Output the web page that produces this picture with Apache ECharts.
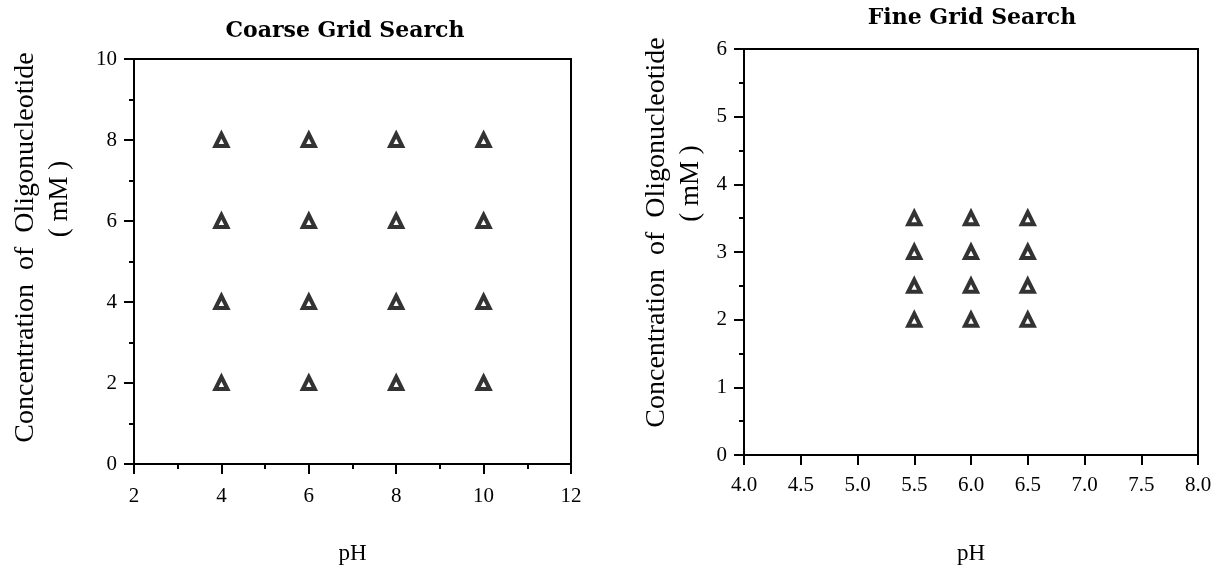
<!DOCTYPE html>
<html>
<head>
<meta charset="utf-8">
<script src="https://cdn.jsdelivr.net/npm/echarts@6/dist/echarts.min.js"></script>
<style>
  html, body { margin: 0; padding: 0; background: #fff; }
  #chart { width: 1217px; height: 570px; }
</style>
</head>
<body>
<div id="chart"></div>
<script>
// ---- Data ----
const coarsePH = [4, 6, 8, 10];
const coarseConc = [2, 4, 6, 8];
const finePH = [5.5, 6.0, 6.5];
const fineConc = [2.0, 2.5, 3.0, 3.5];

const titles = ['Coarse Grid Search', 'Fine Grid Search'];
const xName = 'pH';
const yName = 'Concentration  of  Oligonucleotide';
const yUnit = '( mM )';

function gridPoints(xs, ys) {
  const pts = [];
  xs.forEach(function (x) { ys.forEach(function (y) { pts.push([x, y]); }); });
  return pts;
}

const serif = 'Liberation Serif';
const titleFont = 'DejaVu Serif';

function yAxisCfg(gridIndex, min, max, interval, gap, padA, padB) {
  return {
    type: 'value', gridIndex: gridIndex, min: min, max: max, interval: interval,
    name: '{a|' + yName + '}\n{b|' + yUnit + '}',
    nameLocation: 'middle', nameRotate: 90, nameGap: gap, nameMoveOverlap: false,
    nameTextStyle: {
      color: '#000', fontFamily: serif, fontSize: 28,
      rich: {
        a: { fontFamily: serif, fontSize: 28, color: '#000', lineHeight: 34, padding: [0, 0, 0, padA] },
        b: { fontFamily: serif, fontSize: 27, color: '#000', lineHeight: 34, padding: [0, 0, 0, padB] }
      }
    },
    axisLine: { show: true, lineStyle: { color: '#000', width: 2 } },
    axisTick: { show: true, inside: false, length: 10, lineStyle: { color: '#000', width: 2 } },
    minorTick: { show: true, splitNumber: 2, length: 5, lineStyle: { color: '#000', width: 2 } },
    splitLine: { show: false },
    axisLabel: { color: '#000', fontFamily: serif, fontSize: 21, margin: 17 }
  };
}

function xAxisCfg(gridIndex, min, max, interval, gap, margin, minor, fmt) {
  return {
    type: 'value', gridIndex: gridIndex, min: min, max: max, interval: interval,
    name: xName, nameLocation: 'middle', nameGap: gap, nameMoveOverlap: false,
    nameTextStyle: { color: '#000', fontFamily: serif, fontSize: 23 },
    axisLine: { show: true, onZero: false, lineStyle: { color: '#000', width: 2 } },
    axisTick: { show: true, inside: false, length: 10, lineStyle: { color: '#000', width: 2 } },
    minorTick: { show: minor, splitNumber: 2, length: 5, lineStyle: { color: '#000', width: 2 } },
    splitLine: { show: false },
    axisLabel: { color: '#000', fontFamily: serif, fontSize: 21, margin: margin, formatter: fmt,
                 showMinLabel: true, showMaxLabel: true }
  };
}

const markerStyle = { color: '#fff', borderColor: '#000', borderWidth: 4 };

const chart = echarts.init(document.getElementById('chart'), null, { renderer: 'canvas' });
chart.setOption({
  backgroundColor: '#fff',
  animation: false,
  title: [
    { text: titles[0], left: 340, top: 15, textAlign: 'center',
      textStyle: { fontFamily: titleFont, fontWeight: 'bold', fontSize: 22, color: '#000' } },
    { text: titles[1], left: 967, top: 2, textAlign: 'center',
      textStyle: { fontFamily: titleFont, fontWeight: 'bold', fontSize: 22, color: '#000' } }
  ],
  grid: [
    { left: 134, top: 59, width: 437, height: 407, show: true, borderColor: '#000', borderWidth: 2, backgroundColor: 'transparent' },
    { left: 744, top: 49, width: 454, height: 408, show: true, borderColor: '#000', borderWidth: 2, backgroundColor: 'transparent' }
  ],
  xAxis: [
    xAxisCfg(0, 2, 12, 2, 78, 22, true, function (v) { return String(v); }),
    xAxisCfg(1, 4, 8, 0.5, 87, 20, false, function (v) { return v.toFixed(1); })
  ],
  yAxis: [
    yAxisCfg(0, 0, 10, 2, 57, 28, 125),
    yAxisCfg(1, 0, 6, 1, 36, 39, 137)
  ],
  series: [
    { type: 'scatter', xAxisIndex: 0, yAxisIndex: 0, symbol: 'triangle', symbolSize: 12,
      itemStyle: markerStyle, data: gridPoints(coarsePH, coarseConc) },
    { type: 'scatter', xAxisIndex: 1, yAxisIndex: 1, symbol: 'triangle', symbolSize: 12,
      itemStyle: markerStyle, data: gridPoints(finePH, fineConc) }
  ]
});
</script>
</body>
</html>
